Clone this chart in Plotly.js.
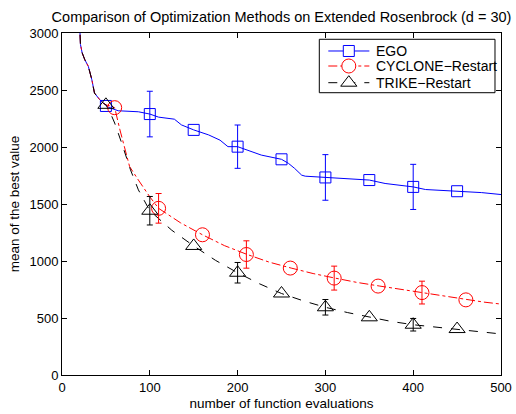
<!DOCTYPE html>
<html>
<head>
<meta charset="utf-8">
<script src="https://cdn.plot.ly/plotly-3.0.1.min.js"></script>
<style>html,body{margin:0;padding:0;background:#fff;}#chart{width:516px;height:414px;}</style>
</head>
<body>
<div id="chart"></div>
<script>
// ---- data ----
var seriesNames = ["EGO", "CYCLONE\u2212Restart", "TRIKE\u2212Restart"];

// shared initial design part
var startX = [19, 20, 21, 23, 26, 30, 34, 37, 40, 43, 47, 50];
var startY = [3300, 3000, 2900, 2825, 2765, 2707, 2590, 2473, 2440, 2415, 2385, 2370];

// EGO curve
var egoLineX = [53, 64, 87, 100, 110, 128, 136, 150, 167, 180, 189, 200, 216, 227, 250, 258, 265, 273, 277, 300, 326, 350, 368, 400, 414, 450, 478, 500];
var egoLineY = [2348, 2318, 2309, 2289, 2262, 2244, 2194, 2150, 2106, 2060, 2003, 2003, 1960, 1929, 1892, 1856, 1812, 1753, 1744, 1733, 1724, 1710, 1680, 1650, 1627, 1612, 1600, 1583];
var egoMarkX = [50, 100, 150, 200, 250, 300, 350, 400, 450];
var egoMarkY = [2360, 2289, 2150, 2003, 1892, 1733, 1710, 1650, 1612];
var egoErrX = [100, 200, 300, 400];
var egoErrY = [2289, 2003, 1733, 1650];
var egoErr = [200, 190, 200, 198];

// CYCLONE-Restart curve
var cycLineX = [55, 60, 66, 73, 77, 87, 100, 110, 135, 160, 185, 211, 236, 261, 286, 311, 336, 362, 387, 412, 437, 462, 480, 500];
var cycLineY = [2360, 2345, 2150, 1945, 1828, 1710, 1563, 1462, 1335, 1230, 1135, 1057, 990, 938, 890, 850, 812, 780, 750, 723, 690, 659, 640, 622];
var cycMarkX = [60, 110, 160, 210, 260, 310, 360, 410, 460];
var cycMarkY = [2345, 1462, 1230, 1057, 938, 850, 780, 723, 659];
var cycErrX = [110, 210, 310, 410];
var cycErrY = [1462, 1057, 850, 723];
var cycErr = [130, 120, 105, 100];

// TRIKE-Restart curve
var trkLineX = [55, 60, 68, 78, 87, 100, 125, 150, 175, 200, 225, 250, 275, 300, 325, 350, 375, 400, 425, 450, 475, 500];
var trkLineY = [2300, 2210, 2034, 1800, 1624, 1441, 1270, 1132, 1005, 897, 800, 715, 650, 594, 548, 506, 470, 441, 420, 403, 380, 360];
var trkMarkX = [50, 100, 150, 200, 250, 300, 350, 400, 450];
var trkMarkY = [2370, 1441, 1132, 897, 715, 594, 506, 441, 403];
var trkErrX = [100, 200, 300, 400];
var trkErrY = [1441, 897, 594, 441];
var trkErr = [125, 90, 68, 55];

var xTicks = [0, 100, 200, 300, 400, 500];
var yTicks = [0, 500, 1000, 1500, 2000, 2500, 3000];

// ---- styles ----
var FONT = "Liberation Sans, Arial, Helvetica, sans-serif";
var cols = ["#0000ff", "#ff0000", "#000000"];
var dashes = ["solid", "dashdot", "dash"];
var symbols = ["square-open", "circle-open", "triangle-up-open"];
var sizes = [11, 14, 14];

var lines = [[egoLineX, egoLineY], [cycLineX, cycLineY], [trkLineX, trkLineY]];
var marks = [[egoMarkX, egoMarkY], [cycMarkX, cycMarkY], [trkMarkX, trkMarkY]];
var errs = [[egoErrX, egoErrY, egoErr], [cycErrX, cycErrY, cycErr], [trkErrX, trkErrY, trkErr]];

var traces = [];
[0, 1, 2].forEach(function (i) {
  traces.push({
    x: startX.concat(lines[i][0]), y: startY.concat(lines[i][1]), name: seriesNames[i],
    mode: "lines", type: "scatter", showlegend: false, hoverinfo: "skip",
    line: {color: cols[i], width: 1, dash: dashes[i]}
  });
});
[0, 1, 2].forEach(function (i) {
  traces.push({
    x: marks[i][0], y: marks[i][1], mode: "markers", type: "scatter", showlegend: false,
    marker: {symbol: symbols[i], size: sizes[i], color: cols[i], line: {color: cols[i], width: 1}}
  });
  traces.push({
    x: errs[i][0], y: errs[i][1], mode: "markers", type: "scatter", showlegend: false,
    marker: {size: 0.1, color: "rgba(0,0,0,0)"},
    error_y: {type: "data", array: errs[i][2], visible: true, color: cols[i], thickness: 1, width: 3}
  });
});

// ---- hand-built legend (MATLAB-style compact rows) ----
var LEG = {x0: 0.5861, x1: 0.9863, y0: 0.8254, y1: 0.9816,
           rows: [0.9474, 0.9035, 0.8547], lineX0: 0.6066, lineX1: 0.7001, mid: 0.6533, textX: 0.7107};
var shapes = [{type: "rect", xref: "paper", yref: "paper", x0: LEG.x0, x1: LEG.x1, y0: LEG.y0, y1: LEG.y1,
               line: {color: "#000", width: 1}, fillcolor: "#fff", layer: "above"}];
var annotations = [];
var legendMarkers = [
  {type: "rect", x0: -5.5, x1: 5.5, y0: -5.5, y1: 5.5},
  {type: "circle", x0: -7, x1: 7, y0: -7, y1: 7},
  {type: "path", path: "M -8.1,-3.5 L 8.1,-3.5 L 0,7 Z"}
];
[0, 1, 2].forEach(function (i) {
  var yy = LEG.rows[i];
  shapes.push({type: "line", xref: "paper", yref: "paper", x0: LEG.lineX0, x1: LEG.lineX1, y0: yy, y1: yy,
               line: {color: cols[i], width: 1, dash: dashes[i]}, layer: "above"});
  shapes.push(Object.assign({xref: "paper", yref: "paper", xsizemode: "pixel", ysizemode: "pixel",
               xanchor: LEG.mid, yanchor: yy,
               line: {color: cols[i], width: 1}, fillcolor: "#fff", layer: "above"}, legendMarkers[i]));
  annotations.push({xref: "paper", yref: "paper", x: LEG.textX, y: yy, xanchor: "left", yanchor: "middle",
                    text: seriesNames[i], showarrow: false, font: {family: FONT, size: 14, color: "#000"}});
});

var axisCommon = {
  showline: true, linecolor: "#000", linewidth: 1, mirror: "ticks",
  ticks: "inside", ticklen: 5, tickcolor: "#000", tickwidth: 1,
  showgrid: false, zeroline: false,
  tickfont: {family: FONT, size: 13, color: "#000"}
};

var layout = {
  width: 516, height: 414,
  margin: {l: 62, r: 15, t: 33, b: 39},
  paper_bgcolor: "#fff", plot_bgcolor: "#fff",
  font: {family: FONT, size: 13, color: "#000"},
  title: {text: "Comparison of Optimization Methods on Extended Rosenbrock (d = 30)",
          font: {family: FONT, size: 14.5, color: "#000"},
          xref: "paper", x: 0.5, xanchor: "center", yref: "container", y: 0.958, yanchor: "middle"},
  xaxis: Object.assign({}, axisCommon, {
    range: [0, 500], tickvals: xTicks, ticktext: xTicks.map(String),
    title: {text: "number of function evaluations", font: {family: FONT, size: 13.5, color: "#000"}, standoff: 4}
  }),
  yaxis: Object.assign({}, axisCommon, {
    range: [0, 3000], tickvals: yTicks, ticktext: yTicks.map(String),
    title: {text: "mean of the best value", font: {family: FONT, size: 13.5, color: "#000"}, standoff: 6}
  }),
  showlegend: false,
  shapes: shapes,
  annotations: annotations
};

Plotly.newPlot("chart", traces, layout, {displayModeBar: false, staticPlot: true});
</script>
</body>
</html>
